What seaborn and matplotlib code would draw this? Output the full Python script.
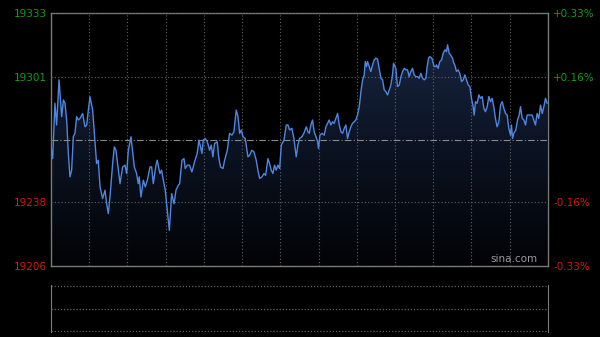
import numpy as np
import pandas as pd
import seaborn as sns
import matplotlib.pyplot as plt
from matplotlib.colors import LinearSegmentedColormap

# intraday index trace (minutes after open, price)
minutes = [0, 1.3, 3.1, 4.4, 6.3, 8.4, 9.7, 11.0, 12.3, 13.6, 14.9, 16.2, 17.5, 18.8, 20.1,
           21.5, 22.8, 24.8, 26.7, 28.0, 29.3, 30.6, 32.7, 35.8, 37.1, 38.5, 40.5, 42.4, 43.7,
           45.0, 46.3, 48.4, 49.7, 51.0, 54.2, 56.2, 58.1, 59.4, 60.7, 62.8, 65.4, 67.2, 68.5,
           69.3, 70.6, 72.5, 74.0, 75.6, 77.7, 79.0, 80.3, 82.4, 83.4, 85.5, 86.8, 88.2, 89.7,
           91.3, 92.9, 94.7, 96.6, 98.1, 99.9,
           101.0, 102.8, 104.4, 105.4, 107.0, 108.8, 110.6, 112.7, 114.8, 116.1, 117.4, 118.5,
           119.5, 121.1, 122.7, 124.5, 125.8, 127.1, 128.4, 130.5, 131.6, 133.1, 135.0, 136.3,
           138.4, 140.2, 142.0, 143.6, 145.4, 146.8, 148.1, 149.4, 150.7, 152.5, 154.6, 155.9,
           157.7, 159.3, 161.1, 162.4, 163.8, 165.6, 167.2, 168.5, 170.3, 171.6, 172.9, 174.2,
           175.5, 176.8, 178.1, 179.5, 180.8, 182.9, 184.7, 186.0, 187.3, 189.1, 190.7, 192.5,
           193.8, 195.1, 197.0, 198.5, 200.4, 201.7,
           202.7, 204.0, 205.3, 206.6, 208.0, 209.3, 210.0, 211.1, 212.7, 214.5, 215.8, 217.1,
           218.4, 219.7, 221.0, 222.3, 223.6, 225.0, 226.3, 227.6, 228.9, 230.2, 231.5, 232.8,
           234.1, 235.4, 236.7, 238.0, 239.3, 240.6, 242.0, 243.3, 244.6, 245.9, 246.7, 247.7,
           248.5, 249.8, 251.1, 252.4, 253.7, 255.0, 256.3, 257.6, 259.0, 260.3, 261.6, 262.9,
           264.2, 265.5, 266.8, 268.1, 268.9, 270.7, 272.0, 273.4, 274.7, 276.0, 277.3, 278.6,
           279.9, 281.2, 282.5, 283.8, 285.1, 286.4, 287.7, 289.0, 290.4, 291.7, 293.0, 294.3,
           295.1, 296.4, 297.4, 299.0, 300.8, 302.1,
           302.6, 303.9, 305.2, 306.6, 307.9, 309.2, 310.5, 311.3, 312.6, 313.6, 315.2, 316.2,
           317.0, 318.3, 319.6, 320.9, 322.3, 323.6, 324.9, 326.2, 327.5, 328.8, 330.1, 331.4,
           332.2, 333.2, 334.5, 335.9, 337.2, 338.5, 339.8, 341.1, 342.4, 343.7, 345.0, 346.3,
           347.6, 348.9, 350.2, 351.6, 352.9, 354.2, 355.5, 356.8, 358.1, 359.4, 360.7, 361.5,
           362.3, 363.3, 364.9, 366.2, 367.5, 368.6, 369.9, 371.2, 372.5, 373.8, 375.1, 376.4,
           377.7, 379.0, 380.3, 381.6, 382.9, 384.3, 385.6, 386.9, 388.2, 389.5]
prices = [19265.9, 19260.0, 19287.8, 19276.9, 19299.6, 19281.1, 19289.5, 19287.8, 19279.4, 19262.6,
          19250.8, 19254.2, 19271.0, 19272.7, 19281.1, 19279.4, 19280.2, 19282.7, 19276.0, 19276.9,
          19284.4, 19291.1, 19284.4, 19257.5, 19259.2, 19245.8, 19239.9, 19244.1, 19237.3, 19232.3,
          19240.7, 19257.5, 19265.9, 19264.2, 19247.4, 19255.8, 19256.7, 19252.5, 19264.2, 19271.0,
          19255.8, 19252.5, 19247.4, 19250.8, 19240.7, 19249.1, 19245.8, 19249.1, 19255.8, 19255.8,
          19247.4, 19256.7, 19259.2, 19252.5, 19254.2, 19249.1, 19244.1, 19234.0, 19223.9, 19242.4,
          19237.3, 19244.1, 19246.6,
          19247.4, 19259.2, 19260.0, 19255.0, 19256.7, 19256.7, 19253.3, 19258.4, 19262.6, 19269.3,
          19265.9, 19262.6, 19269.3, 19270.1, 19268.5, 19264.2, 19266.8, 19260.9, 19267.6, 19268.5,
          19260.9, 19255.8, 19255.0, 19259.2, 19264.2, 19272.7, 19271.8, 19273.5, 19284.4, 19281.1,
          19272.7, 19274.4, 19271.0, 19270.1, 19260.9, 19261.7, 19264.2, 19263.4, 19259.2, 19254.2,
          19250.0, 19250.8, 19252.5, 19251.6, 19260.0, 19257.5, 19254.2, 19252.5, 19256.7, 19254.2,
          19256.7, 19255.0, 19266.8, 19269.3, 19276.9, 19276.9, 19274.4, 19275.2, 19270.1, 19260.9,
          19266.8, 19270.1, 19271.0, 19272.7, 19276.0, 19273.5,
          19272.7, 19276.9, 19279.4, 19273.5, 19271.0, 19268.5, 19265.1, 19271.8, 19272.7, 19271.8,
          19276.0, 19277.7, 19279.4, 19276.9, 19278.5, 19277.7, 19280.2, 19282.7, 19276.9, 19273.5,
          19272.7, 19275.2, 19276.9, 19270.1, 19273.5, 19276.0, 19277.7, 19278.5, 19279.4, 19281.9,
          19286.1, 19293.7, 19299.6, 19302.1, 19308.8, 19306.3, 19308.8, 19306.3, 19303.8, 19307.1,
          19309.6, 19310.5, 19310.1, 19305.4, 19300.4, 19299.6, 19294.5, 19293.7, 19292.0, 19294.5,
          19297.0, 19302.1, 19307.9, 19305.4, 19296.2, 19297.0, 19301.2, 19303.8, 19305.4, 19304.6,
          19304.6, 19301.2, 19303.8, 19305.4, 19302.1, 19301.2, 19301.2, 19300.4, 19302.9, 19300.4,
          19299.6, 19300.4, 19305.4, 19310.5, 19311.3, 19310.5, 19306.3, 19306.3,
          19307.1, 19305.4, 19308.8, 19309.6, 19313.0, 19314.7, 19313.8, 19317.2, 19313.0, 19312.2,
          19310.5, 19308.0, 19307.1, 19303.8, 19304.6, 19302.9, 19298.7, 19299.6, 19302.1, 19299.6,
          19297.0, 19296.2, 19290.3, 19286.1, 19281.9, 19288.6, 19287.8, 19292.0, 19290.3, 19291.2,
          19285.3, 19283.6, 19286.1, 19291.2, 19288.6, 19290.3, 19286.1, 19280.2, 19276.0, 19278.5,
          19286.9, 19288.6, 19285.3, 19282.7, 19281.9, 19275.2, 19271.8, 19276.9, 19270.1, 19272.7,
          19274.3, 19279.4, 19281.9, 19286.1, 19280.2, 19279.4, 19276.9, 19281.9, 19281.9, 19281.9,
          19281.9, 19279.4, 19276.9, 19282.7, 19280.2, 19286.9, 19282.7, 19286.1, 19290.3, 19287.8]

prev_close = 19269.6
y_low, y_high = 19206, 19333.2
left_ticks = [19206, 19238, 19301, 19333]
left_labels = ['19206', '19238', '19301', '19333']
right_labels = ['-0.33%', '-0.16%', '+0.16%', '+0.33%']
session_len = 390

df = pd.DataFrame({'minute': minutes, 'price': prices})

sns.set_style('dark')
plt.rcParams['font.family'] = ['DejaVu Sans']

green = '#1a9a1a'
red = '#d01a0a'
grid_col = '#626262'
frame_col = '#7a7a7a'

fig = plt.figure(figsize=(6, 3.37), dpi=100, facecolor='black')
ax = fig.add_axes([0.085, 0.2107, 0.828, 0.7507])
ax.set_facecolor('black')

# gradient area under the line
fill = ax.fill_between(df.minute, df.price, y_low, color='none', lw=0)
grad = np.linspace(0, 1, 256).reshape(-1, 1)
cmap = LinearSegmentedColormap.from_list('area', ['#020306', '#0c1424', '#1c2a48'])
im = ax.imshow(grad, extent=[0, session_len, y_low, y_high], origin='lower',
               aspect='auto', cmap=cmap, zorder=1)
im.set_clip_path(fill.get_paths()[0], transform=ax.transData)

sns.lineplot(data=df, x='minute', y='price', ax=ax, color='#4f86e0', linewidth=1.0, zorder=3)

ax.set_xlim(0, session_len)
ax.set_ylim(y_low, y_high)
ax.set_xticks(range(30, session_len, 30))
ax.set_xticklabels([])
ax.set_yticks(left_ticks)
ax.set_yticklabels(left_labels)
ax.grid(True, color=grid_col, linestyle=(0, (1, 2)), linewidth=0.8, zorder=2)
ax.set_axisbelow(False)
ax.axhline(prev_close, color='#8a8a8a', linestyle=(0, (6, 2, 1, 2)), linewidth=0.8, zorder=2)
ax.tick_params(length=0, pad=3, labelsize=7.5)
ax.set_xlabel('')
ax.set_ylabel('')
for lbl, v in zip(ax.get_yticklabels(), left_ticks):
    lbl.set_color(green if v > prev_close else red)
for s in ax.spines.values():
    s.set_visible(True)
    s.set_color(frame_col)
    s.set_linewidth(1)

ax_r = ax.twinx()
ax_r.set_ylim(y_low, y_high)
ax_r.set_yticks(left_ticks)
ax_r.set_yticklabels(right_labels)
ax_r.tick_params(length=0, pad=4, labelsize=7.5)
ax_r.grid(False)
for lbl, v in zip(ax_r.get_yticklabels(), left_ticks):
    lbl.set_color(green if v > prev_close else red)
for s in ax_r.spines.values():
    s.set_visible(False)

ax.text(0.98, 0.008, 'sina.com', transform=ax.transAxes, ha='right', va='bottom',
        color='#9a9a9a', fontsize=7.5, zorder=4)

# volume panel (empty)
axv = fig.add_axes([0.085, 0.0148, 0.828, 0.1395])
axv.set_facecolor('black')
axv.set_xlim(0, session_len)
axv.set_ylim(-0.02, 1.02)
for lvl in [0, 0.5, 1]:
    axv.axhline(lvl, color=grid_col, linestyle=(0, (1, 1.5)), linewidth=0.9)
axv.set_xticks([])
axv.set_yticks([])
axv.grid(False)
for side, s in axv.spines.items():
    s.set_visible(side in ('left', 'right'))
    s.set_color(frame_col)

plt.savefig('out.png', dpi=100, facecolor='black')
